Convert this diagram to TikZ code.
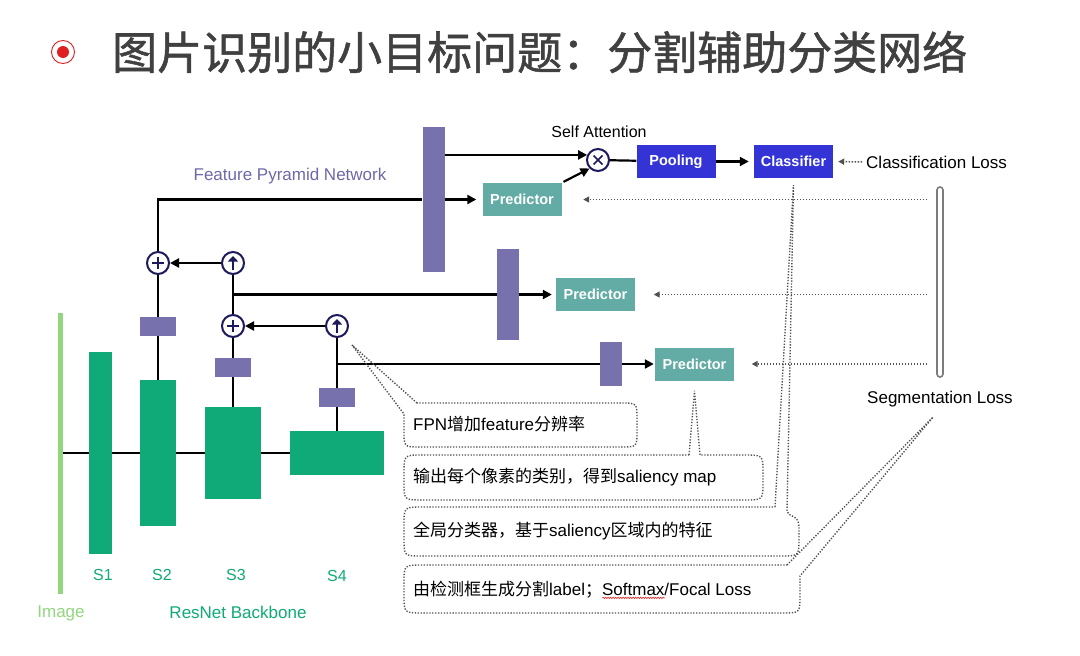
\documentclass[tikz,border=0pt]{standalone}
\usepackage{fontspec}
\setmainfont{Liberation Sans}
\newfontfamily\cjk{Noto Sans CJK SC}
\newfontfamily\cjktitle{Noto Sans CJK SC}[FakeBold=1.2]
\usetikzlibrary{arrows.meta,positioning,decorations.pathmorphing}
\definecolor{Stage}{HTML}{0FAA78}
\definecolor{ImgBar}{HTML}{93D67F}
\definecolor{Lateral}{HTML}{7771AE}
\definecolor{Pred}{HTML}{62ACA5}
\definecolor{Head}{HTML}{3434D6}
\definecolor{Ring}{HTML}{1C1A5C}
\definecolor{FpnText}{HTML}{6D69A8}
\definecolor{TitleInk}{HTML}{404040}
\definecolor{Bullet}{HTML}{E02020}
\definecolor{Dots}{HTML}{505050}
\definecolor{SegGray}{HTML}{7C7C7C}
\definecolor{SpellRed}{HTML}{E03030}

\newcommand\zhtext[1]{{\cjk #1}}
\newsavebox\wordbox
\newcommand\spellmark[1]{\sbox\wordbox{#1}\makebox[0pt][l]{\raisebox{-3.5pt}{\tikz\draw[SpellRed,line width=0.7pt,decorate,decoration={zigzag,segment length=2.5pt,amplitude=0.7pt}] (0pt,0pt) -- (\wd\wordbox,0pt);}}#1}

\begin{document}
\begin{tikzpicture}[x=1pt, y=-1pt,
  every node/.style={inner sep=0pt, font=\fontsize{16}{19}\selectfont},
  stage/.style={fill=Stage},
  stagetext/.style={text=Stage},
  lateral/.style={fill=Lateral, minimum width=36pt, minimum height=19pt},
  fpnbar/.style={fill=Lateral, minimum width=22pt},
  block/.style={text=white, font=\fontsize{14.5}{17}\selectfont\bfseries, minimum width=79pt, minimum height=33pt},
  pred/.style={block, fill=Pred},
  head/.style={block, fill=Head},
  opnode/.style={circle, draw=Ring, line width=2pt, fill=white, minimum size=22pt},
  addnode/.style={opnode, path picture={\draw[line width=1.6pt]
      ([xshift=-6pt]path picture bounding box.center) -- ([xshift=6pt]path picture bounding box.center)
      ([yshift=-6pt]path picture bounding box.center) -- ([yshift=6pt]path picture bounding box.center);}},
  upnode/.style={opnode, path picture={\draw[line width=2.4pt, -{Triangle[length=5.5pt,width=10pt]}]
      ([yshift=-7pt]path picture bounding box.center) -- ([yshift=7pt]path picture bounding box.center);}},
  mulnode/.style={opnode, path picture={\draw[line width=1.6pt]
      ([shift={(-4.5pt,-4.5pt)}]path picture bounding box.center) -- ([shift={(4.5pt,4.5pt)}]path picture bounding box.center)
      ([shift={(-4.5pt,4.5pt)}]path picture bounding box.center) -- ([shift={(4.5pt,-4.5pt)}]path picture bounding box.center);}},
  wire/.style={line width=2.2pt},
  link/.style={wire, -{Triangle[length=9pt,width=9pt]}},
  lossarrow/.style={draw=Dots, line width=1.5pt, dash pattern=on 1.4pt off 1.6pt, -{Triangle[length=6pt,width=6pt]}},
  bubble/.style={draw=Dots, line width=1.4pt, dash pattern=on 1.3pt off 1.6pt},
  note/.style={anchor=west, font=\fontsize{17}{20}\selectfont},
  caption/.style={font=\fontsize{17}{20}\selectfont}]

  \fill[white] (0,0) rectangle (1080,656);
  \useasboundingbox (0,0) rectangle (1080,656);

  % title
  \node[circle, draw=Bullet, line width=0.9pt, minimum size=23pt] (bullet) at (63,52) {};
  \node[circle, fill=Bullet, minimum size=12pt] (dot) at (bullet) {};
  \node[anchor=west, text=TitleInk, font=\cjktitle\fontsize{45}{54}\selectfont] (title) at (112,52) {图片识别的小目标问题：分割辅助分类网络};

  % backbone
  \node[fill=ImgBar, minimum width=5pt, minimum height=281pt] (img) at (60,453) {};
  \node[stage, minimum width=23pt, minimum height=202pt] (s1) at (100.5,453) {};
  \node[stage, minimum width=36pt, minimum height=146pt] (s2) at (158,453) {};
  \node[stage, minimum width=56pt, minimum height=92pt] (s3) at (233,453) {};
  \node[stage, minimum width=94pt, minimum height=44pt] (s4) at (337,453) {};
  \node[stagetext] (l1) at (103,575) {S1};
  \node[stagetext] (l2) at (162,575) {S2};
  \node[stagetext] (l3) at (236,575) {S3};
  \node[stagetext] (l4) at (337,576) {S4};
  \node[caption, text=ImgBar] (imgtext) at (61,613) {Image};
  \node[caption, text=Stage] (backbone) at (238,612) {ResNet Backbone};

  \draw[wire] (img.east) -- (s1.west);
  \draw[wire] (s1.east) -- (s2.west);
  \draw[wire] (s2.east) -- (s3.west);
  \draw[wire] (s3.east) -- (s4.west);

  % feature pyramid
  \node[lateral] (lat2) at (158,326.5) {};
  \node[lateral] (lat3) at (233,367.5) {};
  \node[lateral] (lat4) at (337,397.5) {};
  \node[addnode] (add2) at (158,263) {};
  \node[upnode] (up3) at (233,263) {};
  \node[addnode] (add3) at (233,326) {};
  \node[upnode] (up4) at (337,326) {};
  \node[caption, text=FpnText] (fpntext) at (290,176) {Feature Pyramid Network};

  \node[fpnbar, minimum height=145pt] (fpn1) at (433.5,199.5) {};
  \node[fpnbar, minimum height=91pt] (fpn2) at (508,294.5) {};
  \node[fpnbar, minimum height=44pt] (fpn3) at (611,364) {};
  \node[pred] (pred1) at (522,199.5) {Predictor};
  \node[pred] (pred2) at (595.5,294.5) {Predictor};
  \node[pred] (pred3) at (694.5,364) {Predictor};

  \draw[wire] (s2.north) -- (lat2.south);
  \draw[wire] (lat2.north) -- (add2.south);
  \draw[wire] (add2.north) -- (add2.north |- fpn1.west) -- (fpn1.west);
  \draw[wire] (s3.north) -- (lat3.south);
  \draw[wire] (lat3.north) -- (add3.south);
  \draw[wire] (add3.north) -- (up3.south);
  \draw[wire] (add3.north |- fpn2.west) -- (fpn2.west);
  \draw[wire] (s4.north) -- (lat4.south);
  \draw[wire] (lat4.north) -- (up4.south);
  \draw[wire] (lat4.north |- fpn3.west) -- (fpn3.west);
  \draw[link] (up3.west) -- (add2.east);
  \draw[link] (up4.west) -- (add3.east);
  \draw[link, shorten >=6pt] (fpn1.east) -- (pred1.west);
  \draw[link, shorten >=4pt] (fpn2.east) -- (pred2.west);
  \draw[link, shorten >=1pt] (fpn3.east) -- (pred3.west);

  % attention head
  \node[mulnode] (mul) at (598,160) {};
  \node (selfatt) at (599,132) {Self Attention};
  \node[head] (pool) at (676,161.5) {Pooling};
  \node[head] (cls) at (793.5,161.5) {Classifier};
  \draw[link] (fpn1.east |- mul.155) -- (mul.155);
  \draw[link, shorten <=2pt] (pred1.north east) -- (mul.south west);
  \draw[wire] (mul) -- (pool);
  \draw[link, shorten >=5pt] (pool) -- (cls);

  % losses
  \node[caption, anchor=west] (clsloss) at (866,162) {Classification Loss};
  \draw[lossarrow, shorten <=4pt, shorten >=5pt] (clsloss.west) -- (cls.east);
  \node[draw=SegGray, line width=1.6pt, fill=white, rounded corners=3pt, minimum width=6pt, minimum height=190pt] (segbar) at (940,282) {};
  \node[caption] (segloss) at (940,399) {Segmentation Loss};
  \draw[lossarrow, shorten <=9pt, shorten >=21.5pt] (segbar.west |- pred1.east) -- (pred1.east);
  \draw[lossarrow, shorten <=9pt, shorten >=18.5pt] (segbar.west |- pred2.east) -- (pred2.east);
  \draw[lossarrow, shorten <=9pt, shorten >=17.5pt] (segbar.west |- pred3.east) -- (pred3.east);

  % callouts
  \draw[bubble] (417,403) -- ([xshift=15pt,yshift=-19pt]up4.center) -- (404,414) -- (404,431) .. controls (404,447) .. (420,447)
    -- (621,447) .. controls (637,447) .. (637,431) -- (637,419) .. controls (637,403) .. (621,403) -- cycle;
  \draw[bubble] (689,455) -- ([yshift=-10pt]pred3.south) -- (700,455) -- (745,455) .. controls (763,455) .. (763,473)
    -- (763,482) .. controls (763,500) .. (745,500) -- (422,500) .. controls (404,500) .. (404,482)
    -- (404,473) .. controls (404,455) .. (422,455) -- cycle;
  \draw[bubble] (775,507) -- ([yshift=-7pt]cls.south) -- (787,511) .. controls (787,517) and (799,514) .. (799,527)
    -- (799,538) .. controls (799,556) .. (781,556) -- (422,556) .. controls (404,556) .. (404,538)
    -- (404,525) .. controls (404,507) .. (422,507) -- cycle;
  \draw[bubble] (787,565) -- ([xshift=-7pt,yshift=-10pt]segloss.south) -- (800,576) -- (800,595) .. controls (800,613) .. (782,613)
    -- (422,613) .. controls (404,613) .. (404,595) -- (404,583) .. controls (404,565) .. (422,565) -- cycle;

  \node[note] (n1) at (413,424) {FPN\zhtext{增加}feature\zhtext{分辨率}};
  \node[note] (n2) at (413,477) {\zhtext{输出每个像素的类别，得到}saliency map};
  \node[note] (n3) at (413,531) {\zhtext{全局分类器，基于}saliency\zhtext{区域内的特征}};
  \node[note] (n4) at (413,590) {\zhtext{由检测框生成分割}label\zhtext{；}\spellmark{Softmax}/Focal Loss};
\end{tikzpicture}
\end{document}
